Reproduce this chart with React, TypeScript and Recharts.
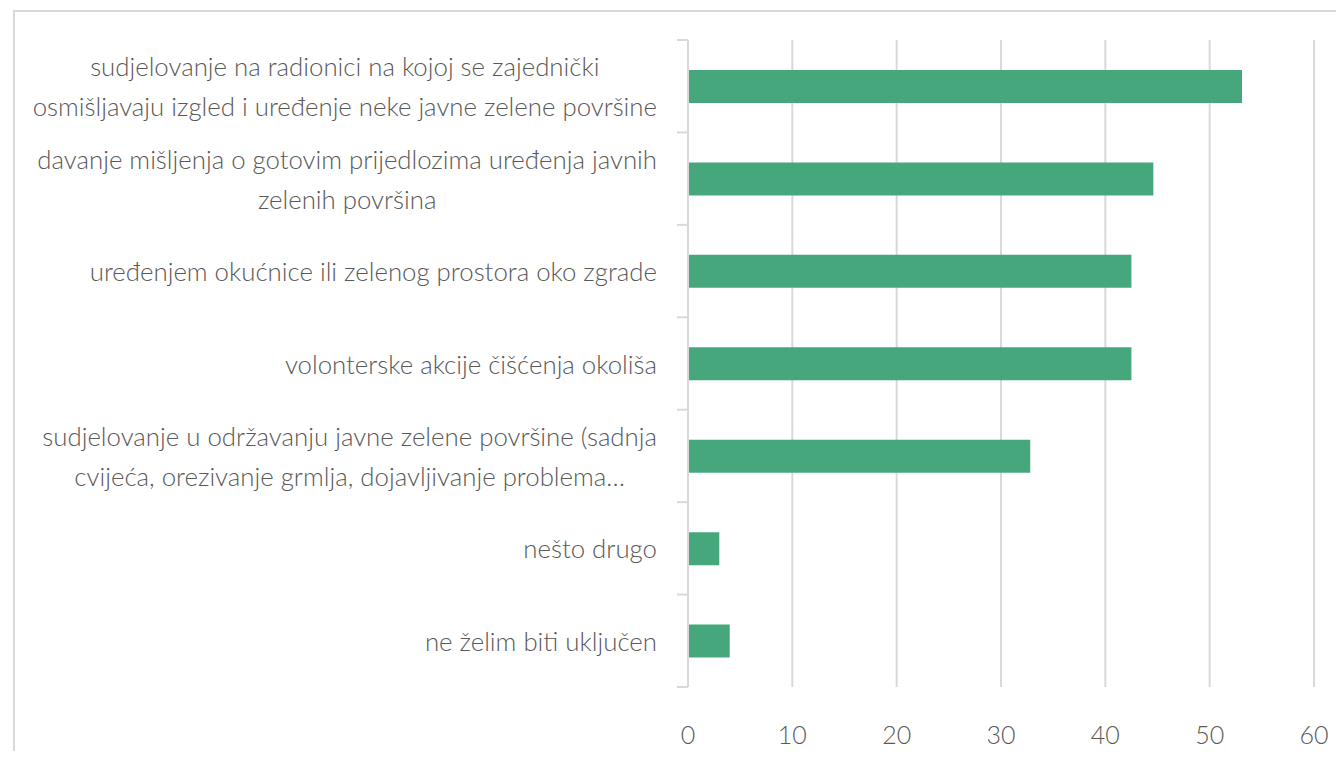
import { BarChart, Bar, XAxis, YAxis, CartesianGrid } from "recharts";

// answer categories (line breaks as in the original chart)
const categories = [
  "sudjelovanje na radionici na kojoj se zajednički\nosmišljavaju izgled i uređenje neke javne zelene površine",
  "davanje mišljenja o gotovim prijedlozima uređenja javnih\nzelenih površina",
  "uređenjem okućnice ili zelenog prostora oko zgrade",
  "volonterske akcije čišćenja okoliša",
  "sudjelovanje u održavanju javne zelene površine (sadnja\ncvijeća, orezivanje grmlja, dojavljivanje problema…",
  "nešto drugo",
  "ne želim biti uključen",
];
const values = [53.1, 44.6, 42.5, 42.5, 32.8, 3.0, 4.0];
const xTicks = [0, 10, 20, 30, 40, 50, 60];

const data = categories.map((name, i) => ({ name, value: values[i] }));

const W = 1321;
const H = 739;
const M = { top: 28, right: 22, left: 0, bottom: 0 };
const Y_W = 673;
const X_H = 64;
const BAND = (H - M.top - M.bottom - X_H) / categories.length;

const FONT = "Lato, 'Open Sans', sans-serif";
const GREY = "#595959";
const LINE = "#d9d9d9";

function CategoryTick(props: any) {
  const { y, payload, index } = props;
  const left = M.left + Y_W;
  return (
    <g>
      <line x1={left - 11} x2={left} y1={y - BAND / 2} y2={y - BAND / 2} stroke={LINE} strokeWidth={2} />
      {index === categories.length - 1 && (
        <line x1={left - 11} x2={left} y1={y + BAND / 2} y2={y + BAND / 2} stroke={LINE} strokeWidth={2} />
      )}
      <foreignObject x={0} y={y - 60} width={left - 31} height={120}>
        <div
          style={{
            display: "flex",
            justifyContent: "flex-end",
            alignItems: "center",
            height: "100%",
          }}
        >
          <div
            style={{
              textAlign: "center",
              whiteSpace: "pre",
              fontFamily: FONT,
              fontWeight: 300,
              fontSize: 25.8,
              lineHeight: "40px",
              color: GREY,
            }}
          >
            {payload.value}
          </div>
        </div>
      </foreignObject>
    </g>
  );
}

function ValueTick(props: any) {
  const { x, y, payload } = props;
  return (
    <text
      x={x}
      y={y + 43}
      textAnchor="middle"
      dominantBaseline="middle"
      fontFamily={FONT}
      fontWeight={300}
      fontSize={25}
      fill={GREY}
    >
      {payload.value}
    </text>
  );
}

export default function App() {
  return (
    <div
      style={{
        marginLeft: 5,
        marginTop: 2,
        width: 1323,
        height: 741,
        boxSizing: "border-box",
        borderLeft: `2px solid ${LINE}`,
        borderTop: `2px solid ${LINE}`,
        background: "#fff",
      }}
    >
      <BarChart width={W} height={H} data={data} layout="vertical" margin={M}>
        <CartesianGrid horizontal={false} stroke={LINE} strokeWidth={2} />
        <XAxis
          type="number"
          domain={[0, 60]}
          ticks={xTicks}
          axisLine={false}
          tickLine={false}
          height={X_H}
          tick={<ValueTick />}
          interval={0}
        />
        <YAxis
          type="category"
          dataKey="name"
          width={Y_W}
          axisLine={{ stroke: LINE, strokeWidth: 2 }}
          tickLine={false}
          tick={<CategoryTick />}
          interval={0}
        />
        <Bar dataKey="value" fill="#46a77c" barSize={33} isAnimationActive={false} />
      </BarChart>
    </div>
  );
}
